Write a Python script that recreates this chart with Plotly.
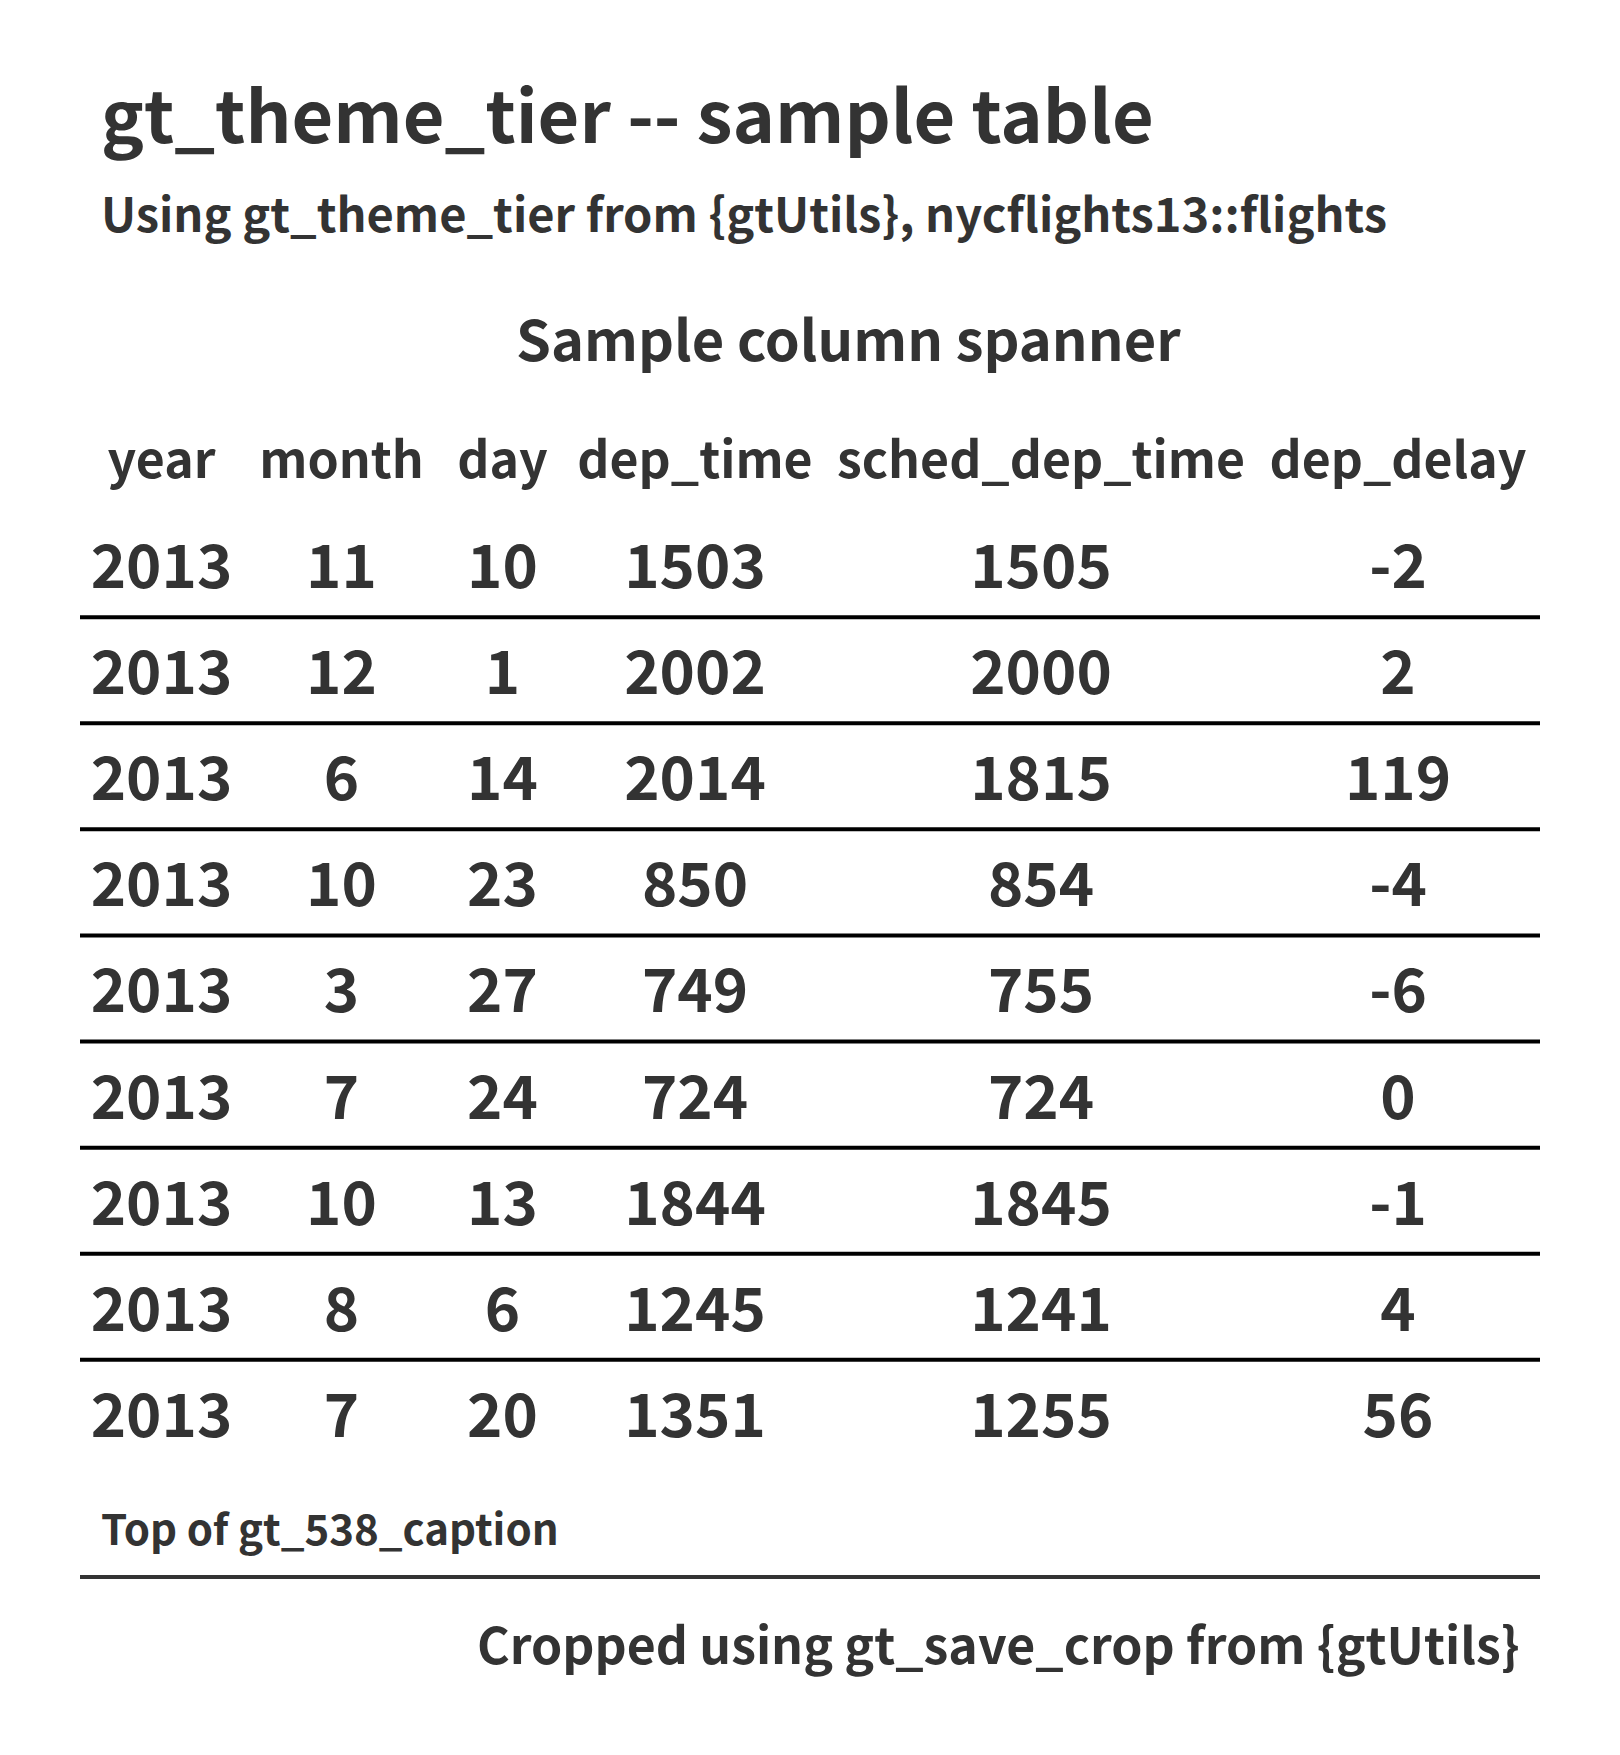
import plotly.graph_objects as go

# table data
columns = ["year", "month", "day", "dep_time", "sched_dep_time", "dep_delay"]
year = [2013, 2013, 2013, 2013, 2013, 2013, 2013, 2013, 2013]
month = [11, 12, 6, 10, 3, 7, 10, 8, 7]
day = [10, 1, 14, 23, 27, 24, 13, 6, 20]
dep_time = [1503, 2002, 2014, 850, 749, 724, 1844, 1245, 1351]
sched_dep_time = [1505, 2000, 1815, 854, 755, 724, 1845, 1241, 1255]
dep_delay = [-2, 2, 119, -4, -6, 0, -1, 4, 56]

title = "gt_theme_tier -- sample table"
subtitle = "Using gt_theme_tier from {gtUtils}, nycflights13::flights"
spanner = "Sample column spanner"
caption = "Top of gt_538_caption"
source = "Cropped using gt_save_crop from {gtUtils}"

W, H = 1620, 1755
FONT = "Noto Sans CJK SC, Liberation Sans, sans-serif"
INK = "#333333"

# layout (figure px; the page adds an 8px body margin)
col_x = [153.5, 333.5, 494.5, 687, 1033, 1390]
row0 = 565
row_h = 106.1
left, right = 72, 1532


def paper_y(px):
    return 1 - px / H


values = [year, month, day, dep_time, sched_dep_time, dep_delay]
n_rows = len(year)
rows = list(range(n_rows))

fig = go.Figure()

# body cells
for cx, col in zip(col_x, values):
    fig.add_trace(go.Scatter(
        x=[cx] * n_rows, y=rows, mode="text",
        text=[str(v) for v in col],
        textfont=dict(family=FONT, size=60, color=INK, weight="bold"),
        textposition="middle center", hoverinfo="skip", showlegend=False,
    ))

# column labels
fig.add_trace(go.Scatter(
    x=col_x, y=[-1.015] * len(columns), mode="text", text=columns,
    textfont=dict(family=FONT, size=50, color=INK, weight="bold"),
    textposition="middle center", hoverinfo="skip", showlegend=False,
))

# row separators
for i in range(n_rows - 1):
    fig.add_shape(type="line", xref="x", yref="y", x0=left, x1=right,
                  y0=i + 0.416, y1=i + 0.416, line=dict(color="black", width=4))

# line above the source note
fig.add_shape(type="line", xref="x", yref="paper", x0=left, x1=right,
              y0=paper_y(1569), y1=paper_y(1569), line=dict(color=INK, width=4))

annots = [
    dict(text=title, x=90.5, y=paper_y(104), xanchor="left", size=72),
    dict(text=subtitle, x=90.5, y=paper_y(203), xanchor="left", size=47),
    dict(text=spanner, x=840.5, y=paper_y(328.5), xanchor="center", size=56),
    dict(text=caption, x=90.5, y=paper_y(1518), xanchor="left", size=42),
    dict(text=source, x=1514, y=paper_y(1634), xanchor="right", size=50),
]
for a in annots:
    fig.add_annotation(
        text=a["text"], x=a["x"], y=a["y"], xref="x", yref="paper",
        xanchor=a["xanchor"], yanchor="middle", showarrow=False,
        font=dict(family=FONT, size=a["size"], color=INK, weight="bold"),
    )

fig.update_layout(
    width=W, height=H,
    margin=dict(l=0, r=0, t=0, b=0),
    paper_bgcolor="white", plot_bgcolor="white",
    xaxis=dict(range=[0, W], visible=False, fixedrange=True),
    yaxis=dict(range=[(H - row0) / row_h, -row0 / row_h], visible=False, fixedrange=True),
)

fig.write_html("out.html")
